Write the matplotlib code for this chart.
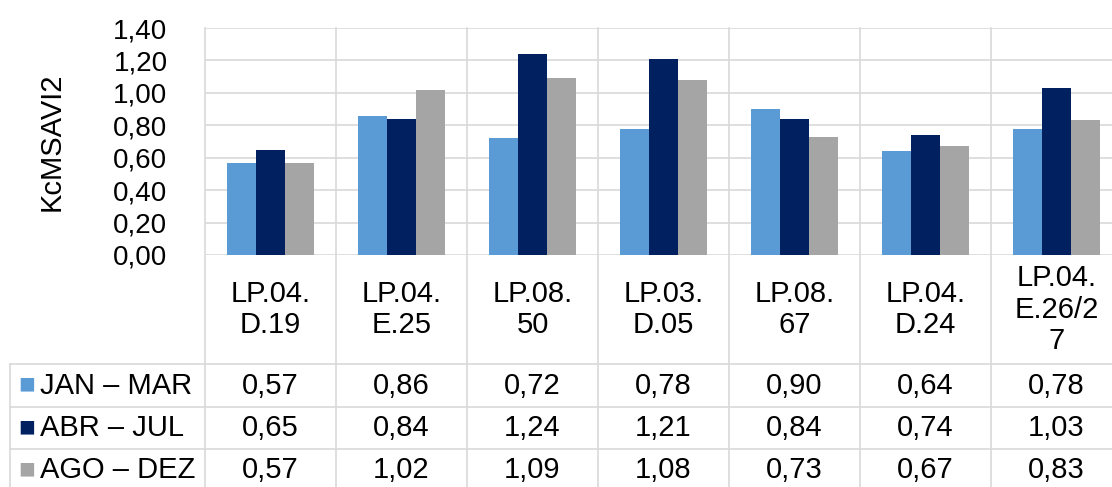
import matplotlib.pyplot as plt
import matplotlib.transforms as mtransforms
from matplotlib.ticker import FuncFormatter, MultipleLocator
import numpy as np

plt.rcParams['font.family'] = ['Liberation Sans', 'DejaVu Sans']

# data
categories = ['LP.04.\nD.19', 'LP.04.\nE.25', 'LP.08.\n50', 'LP.03.\nD.05',
              'LP.08.\n67', 'LP.04.\nD.24', 'LP.04.\nE.26/2\n7']
series_names = ['JAN – MAR', 'ABR – JUL', 'AGO – DEZ']
jan_mar = [0.57, 0.86, 0.72, 0.78, 0.90, 0.64, 0.78]
abr_jul = [0.65, 0.84, 1.24, 1.21, 0.84, 0.74, 1.03]
ago_dez = [0.57, 1.02, 1.09, 1.08, 0.73, 0.67, 0.83]
colors = ['#5B9BD5', '#002060', '#A5A5A5']
ylabel = 'KcMSAVI2'

W, H = 1112, 487
fig = plt.figure(figsize=(W / 100, H / 100), dpi=100)
# plot area in pixels: left 205, right 1122 (runs off the edge), top 28, bottom 255
ax = fig.add_axes([205 / W, 1 - 255 / H, 917 / W, 227 / H])

n = len(categories)
x = np.arange(n)
bw = 0.222
for k, vals in enumerate([jan_mar, abr_jul, ago_dez]):
    ax.bar(x + (k - 1) * bw, vals, width=bw, color=colors[k], zorder=3)

ax.set_xlim(-0.5, n - 0.5)
ax.set_ylim(0, 1.4)
ax.yaxis.set_major_locator(MultipleLocator(0.2))
ax.yaxis.set_major_formatter(FuncFormatter(lambda v, p: f'{v:.2f}'.replace('.', ',')))
ax.tick_params(axis='y', length=0, pad=27, labelsize=20)
ax.set_xticks([])
for s in ax.spines.values():
    s.set_visible(False)
ax.grid(axis='y', color='#D9D9D9', linewidth=1.2, zorder=0)
ax.set_ylabel(ylabel, fontsize=21, labelpad=34)

# data table below the chart
tr = mtransforms.blended_transform_factory(ax.transData, ax.transAxes)
line_kw = dict(color='#D9D9D9', linewidth=1.2, transform=tr, clip_on=False)
ax_px = 227.0
y_head = -(364 - 255) / ax_px
y_rows = [-(407 - 255) / ax_px, -(449 - 255) / ax_px, -(491 - 255) / ax_px]
x_left = -0.5 - 195 / 131.0

# vertical lines at category boundaries
for b in np.arange(-0.5, n, 1.0):
    ax.plot([b, b], [1, y_rows[-1]], **line_kw)
ax.plot([x_left, x_left], [y_head, y_rows[-1]], **line_kw)
for yy in [y_head] + y_rows[:-1]:
    ax.plot([x_left, n - 0.5], [yy, yy], **line_kw)

# header
for i, c in enumerate(categories):
    ax.text(i, y_head / 2, c, transform=tr, ha='center', va='center',
            fontsize=21, linespacing=1.15, clip_on=False)

# rows
tops = [y_head] + y_rows[:-1]
for r, vals in enumerate([jan_mar, abr_jul, ago_dez]):
    yc = (tops[r] + y_rows[r]) / 2
    ax.text(x_left + 0.065, yc, '■', transform=tr, ha='left', va='center',
            fontsize=20, color=colors[r], clip_on=False)
    ax.text(x_left + 0.23, yc, series_names[r], transform=tr, ha='left',
            va='center', fontsize=21, clip_on=False)
    for i, v in enumerate(vals):
        ax.text(i, yc, f'{v:.2f}'.replace('.', ','), transform=tr,
                ha='center', va='center', fontsize=21, clip_on=False)

fig.savefig('out.png', dpi=100)
